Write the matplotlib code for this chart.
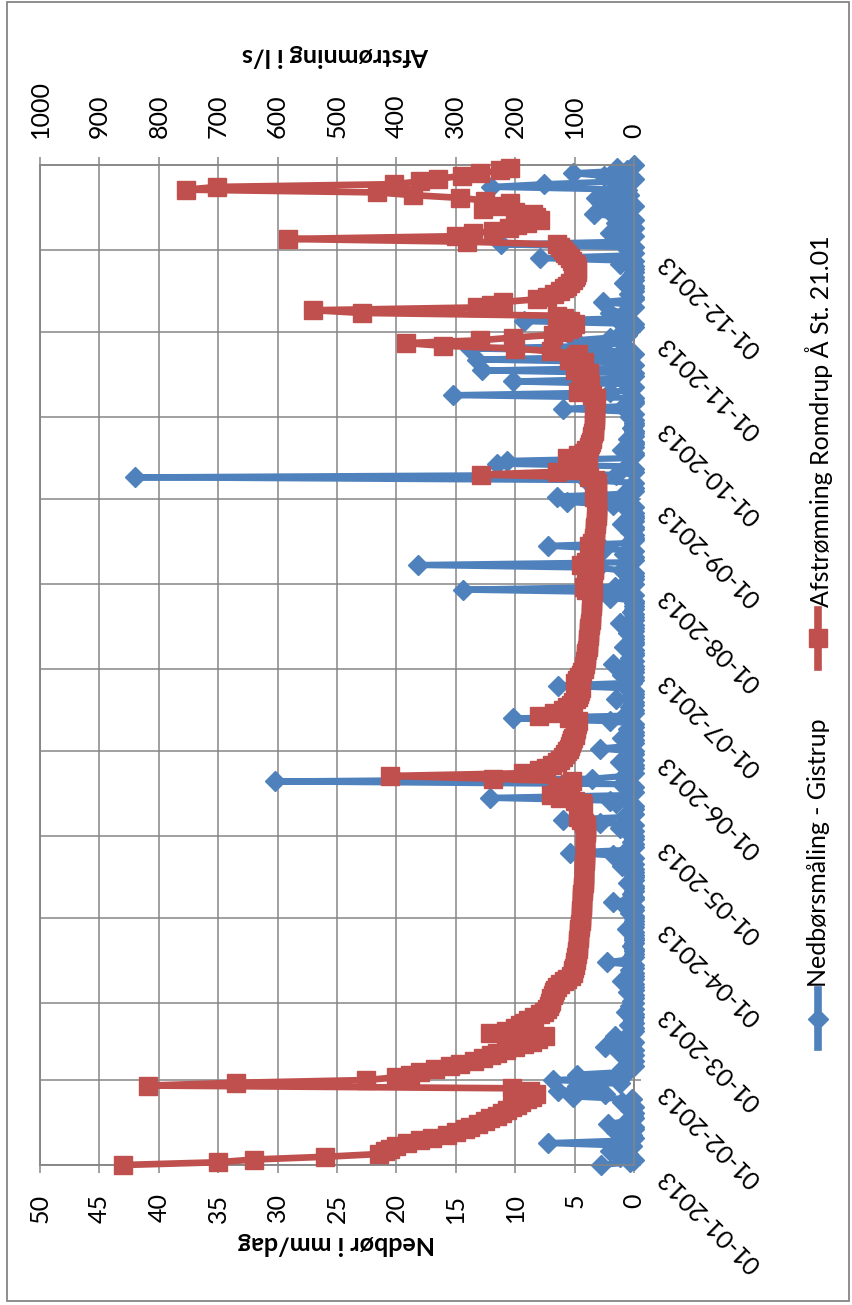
import numpy as np
import pandas as pd
import matplotlib.pyplot as plt
import matplotlib.transforms as mtransforms
from matplotlib.lines import Line2D
from matplotlib.patches import Rectangle

plt.rcParams['font.family'] = ['Lato', 'DejaVu Sans']

navn_nedbor = 'Nedbørsmåling - Gistrup'
navn_afstr = 'Afstrømning Romdrup Å St. 21.01'
titel_nedbor = 'Nedbør i mm/dag'
titel_afstr = 'Afstrømning i l/s'

# nedbør, mm/dag - en liste pr. måned
nedbor_jan = [2.8, 0.3, 0.0, 1.2, 0.5, 2.0, 0.8, 0.2, 7.2, 0.4, 0.0, 0.2, 1.5, 0.0, 0.0, 2.2,
              0.6, 0.0, 0.1, 0.0, 0.3, 0.0, 0.5, 1.0, 0.2, 5.1, 2.4, 6.4, 3.1, 4.8, 1.2]
nedbor_feb = [6.8, 1.5, 4.8, 0.6, 1.0, 0.0, 0.3, 0.0, 0.5, 0.0, 1.2, 0.0, 2.4, 0.2, 0.0, 0.8,
              1.6, 0.2, 0.0, 0.0, 0.4, 0.0, 0.1, 0.0, 0.0, 0.7, 0.0, 0.3]
nedbor_mar = [0.0, 0.2, 0.0, 0.0, 0.5, 0.0, 0.0, 0.0, 1.0, 0.0, 0.0, 0.0, 0.3, 0.0, 0.0, 2.3,
              0.4, 0.0, 0.0, 0.0, 0.0, 0.2, 0.0, 0.0, 0.0, 0.0, 0.0, 0.6, 0.0, 0.0, 0.0]
nedbor_apr = [0.0, 0.0, 0.3, 0.0, 0.0, 0.8, 1.8, 0.0, 0.0, 0.2, 0.0, 0.0, 0.0, 0.5, 0.0, 0.0,
              0.0, 0.0, 0.0, 1.0, 0.0, 0.3, 0.0, 1.8, 5.4, 0.6, 0.0, 0.0, 0.2, 0.0]
nedbor_maj = [0.0, 0.4, 0.0, 1.2, 0.0, 2.9, 6.0, 0.8, 0.0, 0.3, 0.0, 0.0, 1.5, 2.0, 12.1, 0.6,
              0.0, 0.2, 0.0, 1.0, 30.2, 3.5, 0.8, 0.0, 0.4, 0.0, 0.0, 1.2, 0.0, 0.5, 0.0]
nedbor_jun = [0.0, 2.9, 0.3, 0.0, 0.0, 1.0, 0.0, 0.0, 0.5, 0.0, 0.0, 2.0, 10.2, 0.8, 0.0, 0.0,
              0.3, 0.0, 0.0, 1.5, 0.0, 0.0, 0.0, 0.6, 6.4, 0.2, 0.0, 0.0, 1.0, 0.0]
nedbor_jul = [0.0, 0.0, 1.8, 0.0, 0.3, 0.0, 0.0, 0.0, 0.8, 0.0, 0.0, 0.0, 0.0, 0.5, 0.0, 0.0,
              0.0, 1.2, 0.0, 0.0, 0.0, 0.2, 0.0, 0.0, 0.0, 0.0, 2.0, 0.0, 0.4, 14.4, 1.6]
nedbor_aug = [0.0, 0.6, 0.0, 0.0, 0.0, 1.0, 3.0, 18.2, 0.5, 0.0, 0.0, 0.8, 0.0, 2.5, 7.2, 0.4,
              0.0, 0.0, 0.0, 0.3, 0.0, 0.0, 1.0, 0.0, 0.0, 0.0, 0.0, 0.5, 0.0, 1.8, 5.6]
nedbor_sep = [0.4, 6.5, 0.8, 0.0, 0.0, 0.2, 0.0, 4.0, 42.0, 1.5, 0.0, 0.0, 0.6, 11.5, 10.7, 0.3,
              0.0, 0.0, 1.0, 0.0, 0.0, 0.0, 0.5, 0.0, 0.0, 0.0, 0.2, 0.0, 0.0, 0.0]
nedbor_okt = [0.3, 0.0, 0.5, 6.0, 0.8, 0.0, 0.0, 0.0, 15.2, 2.0, 0.4, 0.0, 0.6, 10.2, 1.0, 0.0,
              0.0, 12.8, 0.5, 0.0, 0.8, 13.2, 2.0, 0.0, 0.4, 13.8, 3.0, 1.0, 5.0, 2.0, 0.6]
nedbor_nov = [1.0, 0.4, 0.0, 0.0, 9.3, 1.5, 0.8, 2.0, 0.6, 0.0, 0.3, 2.6, 0.0, 0.0, 0.4, 0.0,
              0.0, 0.0, 0.8, 0.0, 0.0, 0.2, 0.0, 0.0, 0.0, 1.2, 0.0, 7.9, 0.5, 0.0]
nedbor_dec = [0.5, 0.0, 11.2, 1.0, 0.4, 0.0, 2.0, 0.8, 0.0, 0.3, 1.5, 0.0, 0.6, 3.4, 2.0, 0.8,
              0.0, 2.8, 1.0, 3.2, 0.4, 2.0, 0.6, 12.0, 7.6, 1.5, 0.0, 2.5, 5.1, 0.6, 1.4]
nedbor_jan14 = [0.0]

# afstrømning, l/s
afstr_jan = [860, 700, 640, 520, 430, 420, 410, 400, 382, 360, 340, 315, 300, 285, 276, 262,
             250, 242, 230, 222, 214, 205, 197, 190, 180, 172, 165, 175, 205, 818, 670]
afstr_feb = [451, 400, 377, 360, 335, 310, 293, 270, 255, 240, 231, 215, 200, 185, 172, 162,
             150, 242, 215, 200, 192, 185, 178, 168, 158, 152, 147, 143]
afstr_mar = [141, 140, 139, 137, 135, 133, 130, 125, 118, 112, 106, 103, 102, 101, 100, 99,
             98, 97, 96, 96, 95, 95, 94, 94, 93, 93, 92, 92, 91, 91, 90]
afstr_apr = [90, 90, 89, 89, 88, 88, 88, 87, 87, 87, 86, 86, 86, 85, 85, 85,
             85, 84, 84, 84, 84, 83, 83, 83, 83, 82, 82, 82, 82, 82]
afstr_maj = [82, 81, 80, 80, 81, 85, 90, 95, 92, 90, 88, 86, 88, 100, 125, 140,
             130, 120, 112, 108, 105, 237, 411, 187, 160, 148, 138, 130, 125, 120, 116]
afstr_jun = [112, 110, 108, 106, 104, 102, 100, 99, 98, 97, 96, 95, 110, 160, 135, 120,
             112, 106, 102, 98, 95, 93, 91, 90, 95, 100, 96, 92, 89, 87]
afstr_jul = [85, 84, 83, 82, 81, 80, 80, 79, 78, 78, 77, 77, 76, 76, 75, 75,
             74, 74, 73, 73, 72, 72, 72, 71, 71, 70, 70, 70, 69, 80, 85]
afstr_aug = [80, 75, 72, 70, 69, 68, 68, 90, 80, 74, 71, 69, 68, 67, 75, 70,
             68, 67, 66, 66, 65, 65, 64, 64, 64, 63, 63, 63, 62, 62, 62]
afstr_sep = [64, 68, 66, 64, 63, 63, 62, 65, 75, 258, 130, 100, 85, 78, 95, 113,
             95, 85, 80, 76, 74, 72, 71, 70, 69, 68, 68, 67, 67, 66]
afstr_okt = [66, 66, 65, 68, 66, 65, 65, 64, 70, 95, 85, 78, 74, 90, 82, 78,
             76, 100, 95, 88, 85, 110, 100, 95, 140, 200, 321, 384, 260, 204, 136]
afstr_nov = [120, 110, 105, 100, 108, 118, 130, 458, 540, 264, 240, 220, 163, 146, 135, 125,
             118, 112, 108, 103, 100, 98, 96, 96, 97, 100, 104, 108, 112, 116]
afstr_dec = [120, 125, 130, 281, 582, 300, 271, 237, 210, 197, 180, 158, 165, 170, 200, 254,
             230, 209, 250, 293, 372, 433, 754, 702, 404, 360, 330, 290, 259, 225, 209]

maaneder = ['01-01-2013', '01-02-2013', '01-03-2013', '01-04-2013', '01-05-2013', '01-06-2013',
            '01-07-2013', '01-08-2013', '01-09-2013', '01-10-2013', '01-11-2013', '01-12-2013']
nedbor_ticks = [0, 5, 10, 15, 20, 25, 30, 35, 40, 45, 50]
afstr_ticks = [0, 100, 200, 300, 400, 500, 600, 700, 800, 900, 1000]

nedbor = (nedbor_jan + nedbor_feb + nedbor_mar + nedbor_apr + nedbor_maj + nedbor_jun
          + nedbor_jul + nedbor_aug + nedbor_sep + nedbor_okt + nedbor_nov + nedbor_dec
          + nedbor_jan14)
afstr = (afstr_jan + afstr_feb + afstr_mar + afstr_apr + afstr_maj + afstr_jun
         + afstr_jul + afstr_aug + afstr_sep + afstr_okt + afstr_nov + afstr_dec)
dage_nedbor = pd.date_range('2013-01-01', periods=len(nedbor), freq='D')
dage_afstr = pd.date_range('2013-01-01', periods=len(afstr), freq='D')
maaned_datoer = pd.to_datetime(maaneder, format='%d-%m-%Y')

BLAA = '#4F81BD'
ROED = '#C0504D'
GRAA = '#868686'
W, H = 853, 1305
FS = 18


def fx(x):
    return x / W


def fy(y):
    return 1 - y / H


fig = plt.figure(figsize=(W / 100, H / 100), dpi=100)
fig.add_artist(Rectangle((fx(7), fy(1301)), fx(842), 1299 / H, transform=fig.transFigure,
                         fill=False, edgecolor=GRAA, lw=1.3))

ax = fig.add_axes([fx(40), fy(1165), fx(594), 1000 / H])
ax.plot(nedbor, dage_nedbor, color=BLAA, lw=4.5, marker='D', ms=10.5,
        mec=BLAA, mfc=BLAA, clip_on=False, zorder=3)
ax.set_xlim(50, 0)
ax.set_ylim(pd.Timestamp('2013-01-01'), pd.Timestamp('2014-01-01'))
ax.set_xticks(nedbor_ticks)
ax.set_xticklabels([str(v) for v in nedbor_ticks], rotation=90, fontsize=FS)
ax.set_yticks(maaned_datoer)
ax.yaxis.tick_right()
ax.tick_params(axis='y', direction='out', length=5, width=1.1, color=GRAA,
               labelright=False, labelleft=False)
ax.tick_params(axis='x', direction='out', length=5.5, width=1.1, color=GRAA, pad=15)
ax.grid(True, color=GRAA, lw=1.1)
ax.set_axisbelow(True)
for s in ax.spines.values():
    s.set_color(GRAA)
    s.set_linewidth(1.1)

ax2 = ax.twiny()
ax2.plot(afstr, dage_afstr, color=ROED, lw=4.8, marker='s', ms=13.5,
         mec=ROED, mfc=ROED, clip_on=False, zorder=3)
ax2.set_xlim(1000, 0)
ax2.set_xticks(afstr_ticks)
ax2.set_xticklabels([str(v) for v in afstr_ticks], rotation=90, fontsize=FS)
ax2.tick_params(axis='x', direction='out', length=5.5, width=1.1, color=GRAA, pad=14)
for s in ax2.spines.values():
    s.set_color(GRAA)
    s.set_linewidth(1.1)

# datoetiketter langs højre akse
trans = mtransforms.blended_transform_factory(ax.transAxes, ax.transData)
trans = mtransforms.offset_copy(trans, fig=fig, x=20, y=0, units='dots')
for d, lab in zip(maaned_datoer, maaneder):
    ax.text(1.0, d, lab, transform=trans, rotation=135, ha='left', va='top',
            fontsize=FS, clip_on=False)

fig.text(fx(336), fy(1243), titel_nedbor, rotation=180, ha='center', va='center',
         fontsize=FS, fontweight='bold')
fig.text(fx(336), fy(55), titel_afstr, rotation=180, ha='center', va='center',
         fontsize=FS, fontweight='bold')

# forklaring, lodret i højre side
for navn, farve, mk, ms, y0, y1, ytxt in [
        (navn_nedbor, BLAA, 'D', 10.5, 1047, 990, 987),
        (navn_afstr, ROED, 's', 13.5, 667, 610, 607)]:
    fig.add_artist(Line2D([fx(818), fx(818)], [fy(y0), fy(y1)], transform=fig.transFigure,
                          color=farve, lw=5.5))
    fig.add_artist(Line2D([fx(818)], [fy((y0 + y1) / 2)], transform=fig.transFigure,
                          color=farve, marker=mk, ms=ms, lw=0))
    fig.text(fx(819), fy(ytxt), navn, rotation=90, ha='center', va='bottom', fontsize=FS)

fig.savefig('out.png', dpi=100)
